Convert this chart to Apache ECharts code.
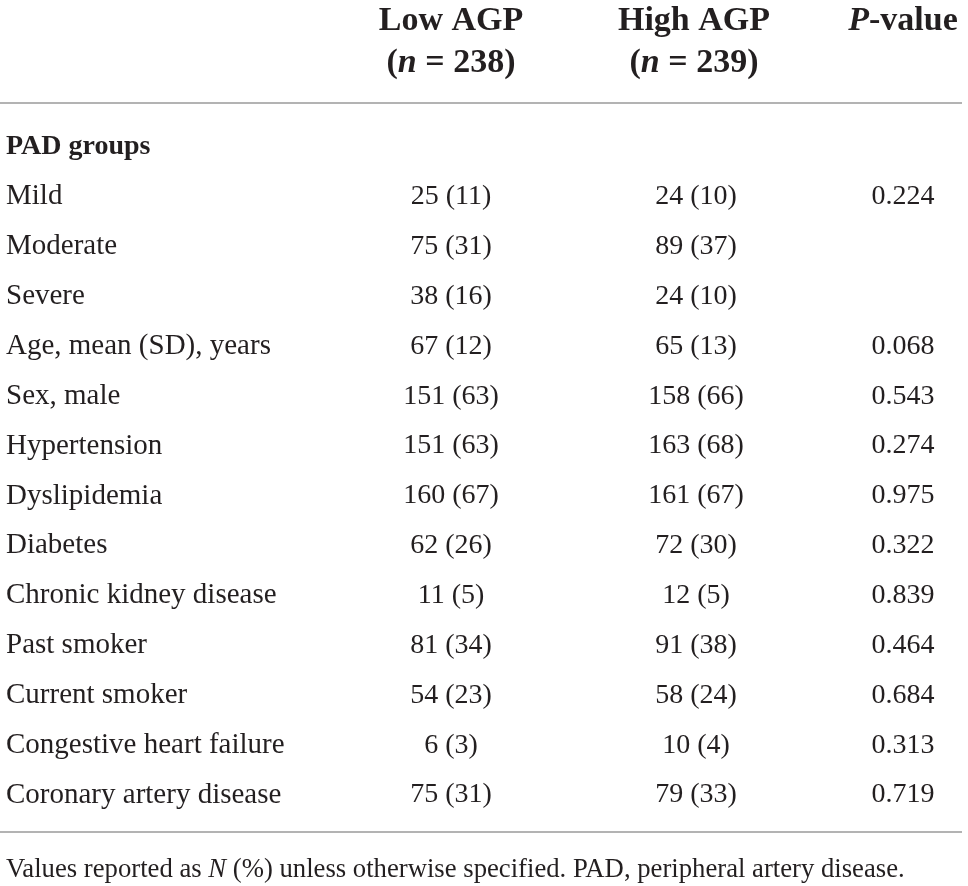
<!DOCTYPE html>
<html>
<head>
<meta charset="utf-8">
<script src="https://cdn.jsdelivr.net/npm/echarts@6/dist/echarts.min.js"></script>
<style>
  html, body { margin: 0; padding: 0; background: #fff; }
  #main { width: 968px; height: 886px; }
</style>
</head>
<body>
<div id="main"></div>
<script>
// table data
var rowLabels = ['PAD groups', 'Mild', 'Moderate', 'Severe', 'Age, mean (SD), years', 'Sex, male',
  'Hypertension', 'Dyslipidemia', 'Diabetes', 'Chronic kidney disease', 'Past smoker',
  'Current smoker', 'Congestive heart failure', 'Coronary artery disease'];
var lowAGP = ['', '25 (11)', '75 (31)', '38 (16)', '67 (12)', '151 (63)', '151 (63)', '160 (67)',
  '62 (26)', '11 (5)', '81 (34)', '54 (23)', '6 (3)', '75 (31)'];
var highAGP = ['', '24 (10)', '89 (37)', '24 (10)', '65 (13)', '158 (66)', '163 (68)', '161 (67)',
  '72 (30)', '12 (5)', '91 (38)', '58 (24)', '10 (4)', '79 (33)'];
var pValues = ['', '0.224', '', '', '0.068', '0.543', '0.274', '0.975', '0.322', '0.839', '0.464',
  '0.684', '0.313', '0.719'];
var headerTop = ['Low AGP', 'High AGP', 'P-value'];
var headerN = [238, 239];
var footnote = 'Values reported as {i|N} (%) unless otherwise specified. PAD, peripheral artery disease.';

// layout (pixels)
var colX = [451, 696, 903];
var labelX = 6;
var ink = '#231f20';
var ruleColor = '#b3b3b3';
var font = '"Liberation Serif", "Times New Roman", serif';

var myChart = echarts.init(document.getElementById('main'));

function cellSeries(name, x, values) {
  return {
    name: name,
    type: 'scatter',
    symbolSize: 0,
    silent: true,
    itemStyle: { opacity: 1, color: ink },
    data: values.map(function (v, i) { return { value: [x, i], text: v }; }),
    label: {
      show: true,
      position: 'inside',
      align: 'center',
      verticalAlign: 'middle',
      color: ink,
      opacity: 1,
      textBorderWidth: 0,
      formatter: function (p) { return p.data.text ? '{v|' + p.data.text + '}' : ''; },
      rich: { v: { fontFamily: font, fontSize: 28, color: ink, textBorderWidth: 0 } }
    }
  };
}

var option = {
  backgroundColor: '#fff',
  animation: false,
  grid: { left: 0, right: 0, top: 122, bottom: 66 },
  xAxis: { type: 'value', min: 0, max: 968, show: false },
  yAxis: {
    type: 'category',
    inverse: true,
    data: rowLabels,
    show: false
  },
  series: [
    {
      name: 'rows',
      type: 'scatter',
      symbolSize: 0,
      silent: true,
      itemStyle: { opacity: 1, color: ink },
      data: rowLabels.map(function (v, i) { return { value: [labelX, i], text: v }; }),
      label: {
        show: true,
        position: 'inside',
        align: 'left',
        verticalAlign: 'middle',
        color: ink,
        opacity: 1,
        textBorderWidth: 0,
        formatter: function (p) {
          return (p.dataIndex === 0 ? '{b|' : '{r|') + p.data.text + '}';
        },
        rich: {
          b: { fontFamily: font, fontSize: 28, fontWeight: 'bold', color: ink },
          r: { fontFamily: font, fontSize: 29, color: ink }
        }
      }
    },
    cellSeries('Low AGP', colX[0], lowAGP),
    cellSeries('High AGP', colX[1], highAGP),
    cellSeries('P-value', colX[2], pValues)
  ],
  graphic: [
    { type: 'text', x: colX[0], y: 21, style: { text: headerTop[0], align: 'center', verticalAlign: 'middle',
      font: 'bold 34px ' + font, fill: ink } },
    { type: 'text', x: colX[1] - 2, y: 21, style: { text: headerTop[1], align: 'center', verticalAlign: 'middle',
      font: 'bold 34px ' + font, fill: ink } },
    { type: 'text', x: colX[2], y: 21, style: { text: '{i|P}-value', align: 'center', verticalAlign: 'middle',
      font: 'bold 34px ' + font, fill: ink,
      rich: { i: { fontFamily: font, fontSize: 34, fontWeight: 'bold', fontStyle: 'italic' } } } },
    { type: 'text', x: colX[0], y: 63, style: { text: '({i|n} = ' + headerN[0] + ')', align: 'center', verticalAlign: 'middle',
      font: 'bold 34px ' + font, fill: ink,
      rich: { i: { fontFamily: font, fontSize: 34, fontWeight: 'bold', fontStyle: 'italic' } } } },
    { type: 'text', x: colX[1] - 2, y: 63, style: { text: '({i|n} = ' + headerN[1] + ')', align: 'center', verticalAlign: 'middle',
      font: 'bold 34px ' + font, fill: ink,
      rich: { i: { fontFamily: font, fontSize: 34, fontWeight: 'bold', fontStyle: 'italic' } } } },
    { type: 'line', shape: { x1: 0, y1: 103, x2: 962, y2: 103 }, style: { stroke: ruleColor, lineWidth: 2 } },
    { type: 'line', shape: { x1: 0, y1: 832, x2: 962, y2: 832 }, style: { stroke: ruleColor, lineWidth: 2 } },
    { type: 'text', x: labelX, y: 870, style: { text: footnote, align: 'left', verticalAlign: 'middle',
      font: '26.7px ' + font, fill: ink,
      rich: { i: { fontFamily: font, fontSize: 26.7, fontStyle: 'italic' } } } }
  ]
};
myChart.setOption(option);
</script>
</body>
</html>
